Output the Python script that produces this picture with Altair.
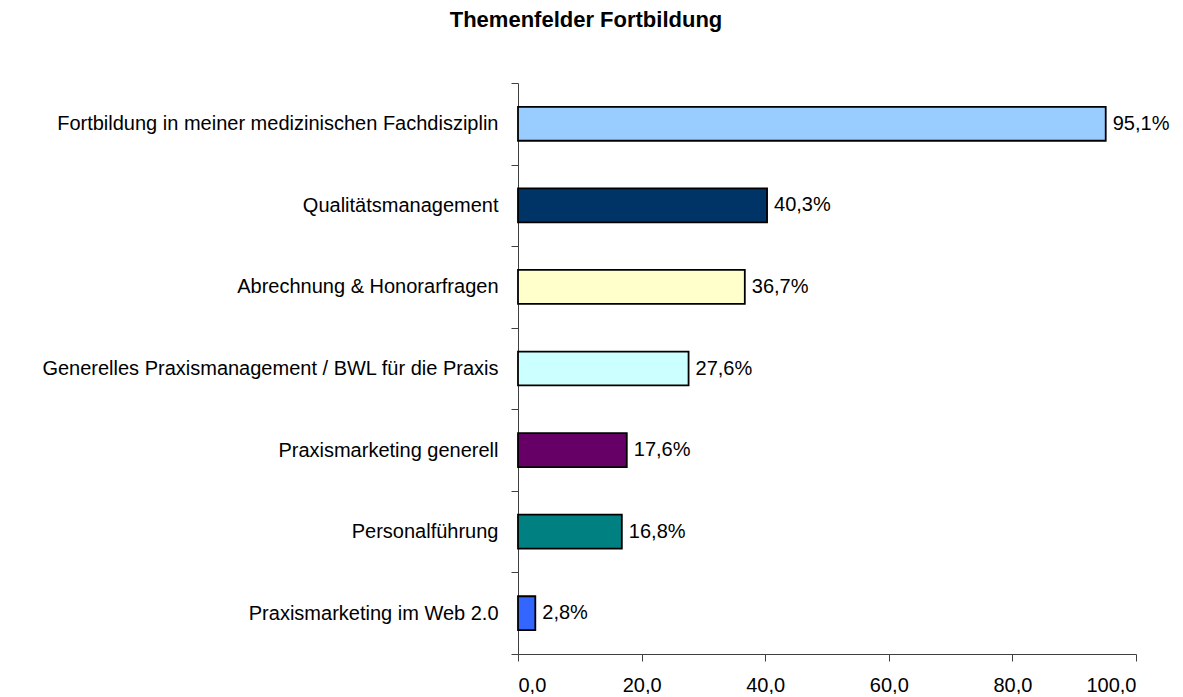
import altair as alt
import pandas as pd

categories = [
    "Fortbildung in meiner medizinischen Fachdisziplin",
    "Qualitätsmanagement",
    "Abrechnung & Honorarfragen",
    "Generelles Praxismanagement / BWL für die Praxis",
    "Praxismarketing generell",
    "Personalführung",
    "Praxismarketing im Web 2.0",
]
values = [95.1, 40.3, 36.7, 27.6, 17.6, 16.8, 2.8]
colors = ["#99CCFF", "#003366", "#FFFFCC", "#CCFFFF", "#660066", "#008080", "#3366FF"]
x_ticks = [0, 20, 40, 60, 80, 100]

df = pd.DataFrame({"cat": categories, "val": values, "col": colors})
df["lab"] = df["val"].map(lambda v: f"{v:.1f}".replace(".", ",") + "%")

FONT = "Liberation Sans"
AXC = "#404040"

y = alt.Y("cat:N", sort=categories, title=None,
          scale=alt.Scale(paddingInner=0, paddingOuter=0),
          axis=alt.Axis(tickBand="extent", labelFontSize=20, labelFont=FONT,
                        labelColor="black", labelPadding=13, domainColor=AXC,
                        tickColor=AXC, tickSize=7, labelLimit=700))
x = alt.X("val:Q", title=None, scale=alt.Scale(domain=[0, 100], nice=False),
          axis=alt.Axis(values=x_ticks, grid=False,
                        labelExpr="replace(format(datum.value, '.1f'), '.', ',')",
                        labelFontSize=20, labelFont=FONT, labelColor="black",
                        labelPadding=14, domainColor=AXC, tickColor=AXC,
                        tickSize=7))

bars = alt.Chart(df).mark_bar(stroke="black", strokeWidth=1.8,
                              height=alt.RelativeBandSize(0.416)).encode(
    x=x, y=y, color=alt.Color("col:N", scale=None)
)
text = alt.Chart(df).mark_text(align="left", baseline="middle", dx=7, fontSize=20,
                               font=FONT, color="black").encode(
    x="val:Q", y=alt.Y("cat:N", sort=categories), text="lab:N"
)

chart = (bars + text).properties(
    width=618, height=571,
    autosize=alt.AutoSizeParams(type="none"),
    padding={"left": 510, "top": 75, "right": 35, "bottom": 40},
    title=alt.TitleParams("Themenfelder Fortbildung", fontSize=22, font=FONT,
                          fontWeight="bold", anchor="middle", frame="group",
                          dx=-241, offset=24, baseline="alphabetic", color="black"),
).configure(background="white").configure_view(stroke=None)

chart.save("out.html", embed_options={"renderer": "svg", "actions": False})
